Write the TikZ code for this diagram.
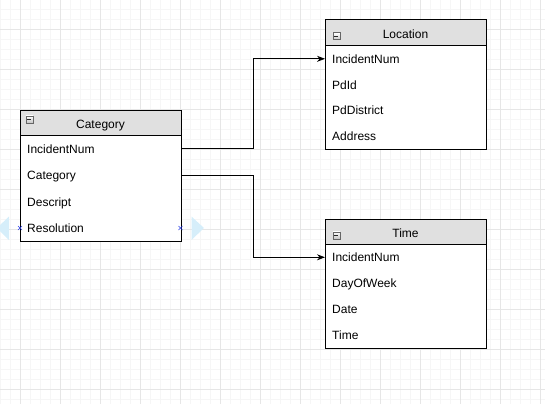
\documentclass[tikz,border=0pt]{standalone}
\usepackage{fontspec}
\setmainfont{Liberation Sans}
\usetikzlibrary{arrows.meta}
\definecolor{hdrgray}{RGB}{224,224,224}
\definecolor{gridmaj}{RGB}{230,230,230}
\definecolor{gridmin}{RGB}{246,246,246}
\definecolor{selblue}{RGB}{214,238,250}
\definecolor{handleblue}{RGB}{40,60,230}
\tikzset{
  hdr/.style={draw=black, fill=hdrgray, line width=0.9pt, minimum width=161pt, minimum height=25.5pt, anchor=north west, inner sep=0pt},
  hdrtxt/.style={anchor=base, inner sep=0pt, font=\fontsize{12}{14}\selectfont},
  tbody/.style={draw=black, fill=white, line width=0.9pt, minimum width=161pt, anchor=north west, inner sep=0pt},
  rowtxt/.style={anchor=base west, inner sep=0pt, font=\fontsize{12}{14}\selectfont},
  conn/.style={draw=black, line width=0.9pt, -{Stealth[length=8pt,width=6pt]}},
  mini/.style={draw=gray!80!black, line width=0.5pt, top color=white, bottom color=gray!45, minimum size=7pt, inner sep=0pt, anchor=north west},
}
\newcommand{\minusicon}[2]{%
  \node[mini] (#2) at #1 {};
  \draw[line width=0.9pt, black!85] ([xshift=1.8pt]#2.center) -- ([xshift=-1.8pt]#2.center);
}
\begin{document}
\begin{tikzpicture}[x=1pt,y=-1pt]
\useasboundingbox (0,0) rectangle (545,404);
\begin{scope}
\clip (0,0) rectangle (545,404);
% grid
\foreach \x in {0,10,...,540} \draw[gridmin, line width=0.8pt] (\x,0) -- (\x,404);
\foreach \y in {-0.5,9.5,...,400} \draw[gridmin, line width=0.8pt] (0,\y) -- (545,\y);
\foreach \x in {20,60,...,540} \draw[gridmaj, line width=0.8pt] (\x,0) -- (\x,404);
\foreach \y in {29.5,69.5,...,400} \draw[gridmaj, line width=0.8pt] (0,\y) -- (545,\y);
% selection arrows
\fill[selblue] (9,216.5) -- (-3,228) -- (9,240) -- cycle;
\fill[selblue] (191.5,216.5) -- (204,228) -- (191.5,240) -- cycle;
\end{scope}

% Category table
\node[hdr] (cath) at (20,109.5) {};
\node[hdrtxt] (catt) at (100.5,128.3) {Category};
\node[tbody, minimum height=106pt] (catb) at (20,135) {};
\minusicon{(25.5,115.5)}{cati}
\node[rowtxt] (c1) at (27,153.3) {IncidentNum};
\node[rowtxt] (c2) at (27,179.3) {Category};
\node[rowtxt] (c3) at (27,206.3) {Descript};
\node[rowtxt] (c4) at (27,232.3) {Resolution};

% Location table
\node[hdr] (loch) at (325,19.5) {};
\node[hdrtxt] (loct) at (405.5,38) {Location};
\node[tbody, minimum height=104pt] (locb) at (325,45) {};
\minusicon{(332.5,32.5)}{loci}
\node[rowtxt] (l1) at (332,63.3) {IncidentNum};
\node[rowtxt] (l2) at (332,89.3) {PdId};
\node[rowtxt] (l3) at (332,114.8) {PdDistrict};
\node[rowtxt] (l4) at (332,140.3) {Address};

% Time table
\node[hdr] (timh) at (325,218.5) {};
\node[hdrtxt] (timt) at (405.5,237) {Time};
\node[tbody, minimum height=104.5pt] (timb) at (325,243.5) {};
\minusicon{(332.5,231.5)}{timi}
\node[rowtxt] (t1) at (332,261.3) {IncidentNum};
\node[rowtxt] (t2) at (332,287.3) {DayOfWeek};
\node[rowtxt] (t3) at (332,313.3) {Date};
\node[rowtxt] (t4) at (332,339.3) {Time};

% connectors
\coordinate (m1) at (253.5,148.5);
\coordinate (m2) at (253.5,175.5);
\draw[conn] (catb.east |- m1) -- (m1) |- (locb.west |- 0,58.8);
\draw[conn] (catb.east |- m2) -- (m2) |- (timb.west |- 0,257.3);

% selection handles
\foreach \p in {(20,228),(180.5,228)} {
  \draw[handleblue, line width=0.6pt] \p ++(-2,-2) -- ++(4,4);
  \draw[handleblue, line width=0.6pt] \p ++(-2,2) -- ++(4,-4);
}
\end{tikzpicture}
\end{document}
